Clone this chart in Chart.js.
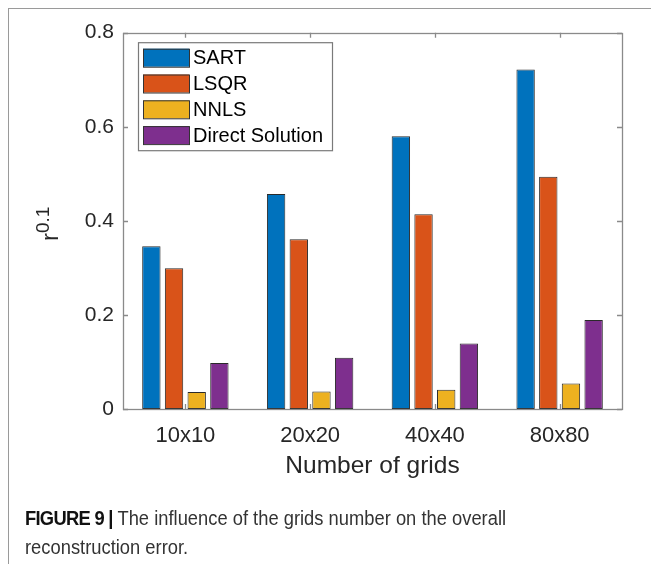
<!DOCTYPE html>
<html>
<head>
<meta charset="utf-8">
<script src="https://cdn.jsdelivr.net/npm/chart.js@4/dist/chart.umd.min.js"></script>
<style>
  html, body { margin: 0; padding: 0; background: #fff; }
  #fig { position: relative; width: 651px; height: 564px; overflow: hidden; }
  #frame { position: absolute; left: 8px; top: 8px; right: -2px; bottom: -2px;
           border-top: 1px solid #9a9a9a; border-left: 1px solid #9a9a9a; }
  canvas { position: absolute; left: 0; top: 0; }
  #caption { position: absolute; left: 25px; top: 504px; white-space: nowrap;
             font-family: 'Liberation Sans', Arial, sans-serif; font-size: 20.5px;
             line-height: 28.5px; color: #333; transform: scaleX(0.895); transform-origin: 0 0; }
  #caption b { color: #111; letter-spacing: -0.8px; }
</style>
</head>
<body>
<div id="fig">
  <div id="frame"></div>
  <canvas id="c" width="651" height="564"></canvas>
  <div id="caption"><b>FIGURE 9 |</b> The influence of the grids number on the overall<br>reconstruction error.</div>
</div>
<script>
// Grid sizes on the x axis
const gridSizes = ['10x10', '20x20', '40x40', '80x80'];

// r^0.1 reconstruction error per method
const sart   = [0.346, 0.457, 0.580, 0.722];
const lsqr   = [0.299, 0.361, 0.414, 0.494];
const nnls   = [0.036, 0.037, 0.041, 0.054];
const direct = [0.098, 0.109, 0.139, 0.189];

const methodNames = ['SART', 'LSQR', 'NNLS', 'Direct Solution'];
const yTicks = [0, 0.2, 0.4, 0.6, 0.8];

const colors = ['#0072BD', '#D95319', '#EDB120', '#7E2F8E'];
const axisColor = '#8a8a8a';
const textColor = '#262626';
const FONT = "'Liberation Sans', Arial, sans-serif";

const series = [sart, lsqr, nnls, direct];

// Box around the axes with inward-pointing ticks on all four sides
const axesBox = {
  id: 'axesBox',
  afterDatasetsDraw(chart) {
    const { ctx, chartArea: a, scales: { x, y } } = chart;
    const tl = 5;
    ctx.save();
    ctx.strokeStyle = axisColor;
    ctx.lineWidth = 1.3;
    ctx.beginPath();
    x.ticks.forEach((t, i) => {
      const px = Math.round(x.getPixelForTick(i)) + 0.5;
      ctx.moveTo(px, a.bottom); ctx.lineTo(px, a.bottom - tl);
      ctx.moveTo(px, a.top); ctx.lineTo(px, a.top + tl);
    });
    yTicks.forEach(v => {
      const py = Math.round(y.getPixelForValue(v)) + 0.5;
      ctx.moveTo(a.left, py); ctx.lineTo(a.left + tl, py);
      ctx.moveTo(a.right, py); ctx.lineTo(a.right - tl, py);
    });
    ctx.stroke();
    ctx.strokeRect(Math.round(a.left) + 0.5, Math.round(a.top) + 0.5,
                   Math.round(a.right - a.left), Math.round(a.bottom - a.top));
    ctx.restore();
  }
};

// Legend box in the upper-left corner of the axes
const boxLegend = {
  id: 'boxLegend',
  afterDraw(chart) {
    const { ctx, chartArea: a } = chart;
    const x0 = a.left + 15, y0 = a.top + 9.5;
    const w = 194, rowH = 25.8, h = 108;
    ctx.save();
    ctx.fillStyle = '#fff';
    ctx.fillRect(x0, y0, w, h);
    ctx.strokeStyle = '#7a7a7a';
    ctx.lineWidth = 1.2;
    ctx.strokeRect(x0 + 0.5, y0 + 0.5, w, h);
    ctx.font = '20px ' + FONT;
    ctx.textBaseline = 'middle';
    ctx.textAlign = 'left';
    chart.data.datasets.forEach((ds, i) => {
      const cy = y0 + 15.5 + i * rowH;
      ctx.fillStyle = ds.backgroundColor;
      ctx.fillRect(x0 + 5, cy - 9, 46, 18);
      ctx.strokeStyle = '#333';
      ctx.lineWidth = 1;
      ctx.strokeRect(x0 + 5.5, cy - 8.5, 46, 18);
      ctx.fillStyle = '#000';
      ctx.fillText(ds.label, x0 + 55, cy + 1);
    });
    ctx.restore();
  }
};

// Y axis title: r with superscript 0.1, rotated
const yTitle = {
  id: 'yTitle',
  afterDraw(chart) {
    const { ctx, chartArea: a } = chart;
    const cy = (a.top + a.bottom) / 2 + 3;
    const baseX = 58;
    ctx.save();
    ctx.translate(baseX, cy);
    ctx.rotate(-Math.PI / 2);
    ctx.fillStyle = textColor;
    ctx.textBaseline = 'alphabetic';
    ctx.textAlign = 'left';
    const fMain = '24px ' + FONT, fSup = '19px ' + FONT;
    ctx.font = fMain; const wr = ctx.measureText('r').width;
    ctx.font = fSup; const ws = ctx.measureText('0.1').width;
    const start = -(wr + ws) / 2;
    ctx.font = fMain; ctx.fillText('r', start, 0);
    ctx.font = fSup; ctx.fillText('0.1', start + wr, -9);
    ctx.restore();
  }
};

new Chart(document.getElementById('c'), {
  type: 'bar',
  data: {
    labels: gridSizes,
    datasets: series.map((d, i) => ({
      label: methodNames[i],
      data: d,
      backgroundColor: colors[i],
      borderColor: '#2a2a2a',
      borderWidth: 1,
      borderSkipped: false,
      categoryPercentage: 0.727,
      barPercentage: 0.81
    }))
  },
  options: {
    responsive: false,
    animation: false,
    devicePixelRatio: 1,
    layout: { padding: { top: 32.7, right: 29, left: 0, bottom: 0 } },
    plugins: { legend: { display: false }, tooltip: { enabled: false } },
    scales: {
      x: {
        grid: { display: false, drawTicks: false },
        border: { display: false },
        ticks: { color: textColor, font: { size: 22, family: FONT }, padding: 14 },
        title: {
          display: true, text: 'Number of grids', color: textColor,
          font: { size: 24.5, family: FONT }, padding: { top: 0, bottom: 83 }
        },
        afterFit(s) { s.height = 564 - 409; }
      },
      y: {
        min: 0, max: 0.8,
        grid: { display: false, drawTicks: false },
        border: { display: false },
        afterBuildTicks(s) { s.ticks = yTicks.map(v => ({ value: v })); },
        ticks: {
          color: textColor, font: { size: 21, family: FONT }, padding: 9,
          callback: v => (v === 0 ? '0' : v.toFixed(1))
        },
        afterFit(s) { s.width = 123; }
      }
    }
  },
  plugins: [axesBox, boxLegend, yTitle]
});
</script>
</body>
</html>
